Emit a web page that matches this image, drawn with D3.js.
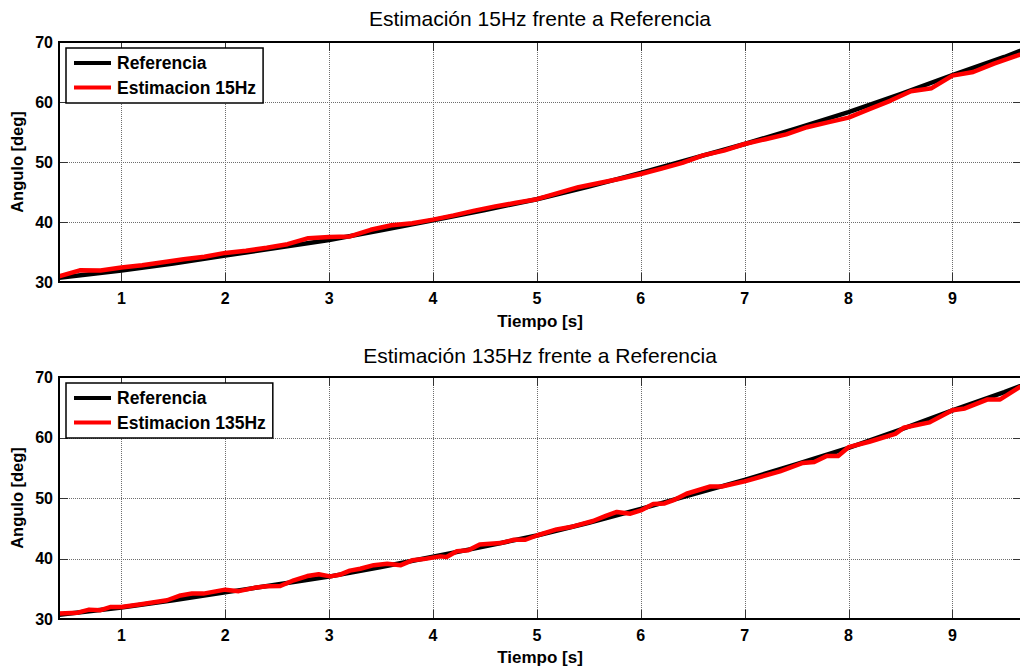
<!DOCTYPE html>
<html>
<head>
<meta charset="utf-8">
<script src="https://cdn.jsdelivr.net/npm/d3@7"></script>
<style>
  html, body { margin: 0; padding: 0; background: #fff; }
  svg { display: block; }
  text { font-family: "Liberation Sans", Arial, Helvetica, sans-serif; fill: #000; }
</style>
</head>
<body>
<svg id="chart" width="1020" height="668"></svg>
<script>
// Reference angle (deg) over time (s)
const timeRef  = [0.4, 1.0, 1.5, 2.0, 2.5, 3.0, 3.5, 4.0, 4.5, 5.0, 5.5, 6.0, 6.5, 7.0, 7.5, 8.0, 8.5, 9.0, 9.5, 9.8];
const refAngle = [30.7, 31.9, 33.1, 34.4, 35.7, 37.0, 38.6, 40.3, 42.0, 43.8, 45.9, 48.2, 50.6, 53.0, 55.6, 58.3, 61.3, 64.5, 67.5, 69.5];

// Estimate at 15 Hz
const time15 = [0.4, 0.6, 0.8, 1.0, 1.2, 1.4, 1.6, 1.8, 2.0, 2.2, 2.4, 2.6, 2.8, 3.0, 3.2, 3.4, 3.6, 3.8, 4.0, 4.2,
                4.4, 4.6, 4.8, 5.0, 5.2, 5.4, 5.6, 5.8, 6.0, 6.2, 6.4, 6.6, 6.8, 7.0, 7.2, 7.4, 7.6, 7.8, 8.0, 8.2,
                8.4, 8.6, 8.8, 9.0, 9.2, 9.4, 9.6, 9.8];
const est15  = [30.95, 31.95, 31.9, 32.4, 32.8, 33.3, 33.8, 34.2, 34.85, 35.2, 35.7, 36.3, 37.3, 37.5, 37.6, 38.7, 39.45, 39.8, 40.4, 41.1,
                41.9, 42.6, 43.2, 43.8, 44.8, 45.8, 46.5, 47.2, 48.0, 48.9, 49.85, 51.1, 51.9, 53.0, 53.8, 54.6, 55.8, 56.6, 57.4, 58.8,
                60.2, 61.8, 62.3, 64.4, 65.0, 66.4, 67.6, 68.8];

// Estimate at 135 Hz
const time135 = [0.4, 0.58, 0.69, 0.8, 0.9, 1.0, 1.19, 1.44, 1.57, 1.68, 1.79, 2.0, 2.13, 2.28, 2.4, 2.53, 2.66, 2.79, 2.9, 3.01,
                 3.1, 3.2, 3.3, 3.43, 3.56, 3.69, 3.8, 3.91, 4.07, 4.13, 4.23, 4.34, 4.45, 4.65, 4.78, 4.89, 5.0, 5.19, 5.35, 5.54,
                 5.67, 5.77, 5.9, 6.0, 6.12, 6.23, 6.31, 6.44, 6.67, 6.78, 7.0, 7.34, 7.56, 7.67, 7.79, 7.9, 8.0, 8.2, 8.45, 8.53,
                 8.78, 9.0, 9.12, 9.34, 9.46, 9.65, 9.75];
const est135  = [30.9, 31.05, 31.55, 31.45, 32.0, 32.0, 32.45, 33.1, 33.9, 34.2, 34.2, 34.85, 34.6, 35.15, 35.4, 35.45, 36.4, 37.1, 37.4, 37.05,
                 37.3, 38.0, 38.3, 38.9, 39.15, 38.9, 39.7, 39.9, 40.35, 40.25, 41.2, 41.35, 42.3, 42.55, 43.1, 43.1, 43.8, 44.8, 45.3, 46.2,
                 47.1, 47.7, 47.4, 47.95, 49.0, 49.1, 49.6, 50.7, 51.9, 51.9, 52.75, 54.4, 55.8, 55.95, 56.95, 56.95, 58.4, 59.3, 60.6, 61.6,
                 62.5, 64.5, 64.8, 66.3, 66.3, 68.35, 69.0];

// Axis ticks
const xTicks = [1, 2, 3, 4, 5, 6, 7, 8, 9];
const yTicks = [30, 40, 50, 60, 70];
const xDomain = [0.4, 9.67];
const yDomain = [30, 70];

const panels = [
  { title: "Estimación 15Hz frente a Referencia", estLabel: "Estimacion 15Hz",
    time: time15, est: est15, top: 42, bottom: 282, titleY: 26, xLabelY: 327 },
  { title: "Estimación 135Hz frente a Referencia", estLabel: "Estimacion 135Hz",
    time: time135, est: est135, top: 377, bottom: 619, titleY: 363, xLabelY: 663 }
];

const svg = d3.select("#chart");
const left = 59, right = 1022;
const x = d3.scaleLinear().domain(xDomain).range([left, right]);

panels.forEach((p, i) => {
  const y = d3.scaleLinear().domain(yDomain).range([p.bottom, p.top]);
  const g = svg.append("g");

  const clipId = "clip" + i;
  g.append("clipPath").attr("id", clipId)
    .append("rect").attr("x", left).attr("y", p.top)
    .attr("width", right - left).attr("height", p.bottom - p.top);

  // dotted grid
  const grid = g.append("g").attr("stroke", "#6e6e6e").attr("stroke-width", 1)
    .attr("stroke-dasharray", "1,1").attr("shape-rendering", "crispEdges");
  grid.selectAll(".gx").data(xTicks).join("line")
    .attr("x1", d => Math.round(x(d)) + 0.5).attr("x2", d => Math.round(x(d)) + 0.5)
    .attr("y1", p.top).attr("y2", p.bottom);
  grid.selectAll(".gy").data(yTicks.filter(v => v > yDomain[0] && v < yDomain[1])).join("line")
    .attr("y1", d => Math.round(y(d)) + 0.5).attr("y2", d => Math.round(y(d)) + 0.5)
    .attr("x1", left).attr("x2", right);

  // tick marks on all four sides (inward)
  const tickLen = 9;
  const ticks = g.append("g").attr("stroke", "#333").attr("stroke-width", 1).attr("shape-rendering", "crispEdges");
  xTicks.forEach(v => {
    const xx = Math.round(x(v)) + 0.5;
    ticks.append("line").attr("x1", xx).attr("x2", xx).attr("y1", p.bottom).attr("y2", p.bottom - tickLen);
    ticks.append("line").attr("x1", xx).attr("x2", xx).attr("y1", p.top).attr("y2", p.top + tickLen);
  });
  yTicks.forEach(v => {
    const yy = Math.round(y(v)) + 0.5;
    ticks.append("line").attr("x1", left).attr("x2", left + tickLen).attr("y1", yy).attr("y2", yy);
    ticks.append("line").attr("x1", right).attr("x2", right - tickLen).attr("y1", yy).attr("y2", yy);
  });

  // data lines
  const line = d3.line().x(d => x(d[0])).y(d => y(d[1]));
  const lines = g.append("g").attr("clip-path", `url(#${clipId})`);
  lines.append("path").datum(d3.zip(timeRef, refAngle))
    .attr("d", line).attr("fill", "none").attr("stroke", "#000")
    .attr("stroke-width", 4.5).attr("stroke-linejoin", "round");
  lines.append("path").datum(d3.zip(p.time, p.est))
    .attr("d", line).attr("fill", "none").attr("stroke", "#ff0000")
    .attr("stroke-width", 4.5).attr("stroke-linejoin", "round");

  // box spines
  g.append("rect").attr("x", left).attr("y", p.top)
    .attr("width", right - left).attr("height", p.bottom - p.top)
    .attr("fill", "none").attr("stroke", "#000").attr("stroke-width", 2);

  // tick labels
  g.append("g").selectAll("text").data(xTicks).join("text")
    .attr("x", d => x(d)).attr("y", p.bottom + 22)
    .attr("text-anchor", "middle").attr("font-size", 16).attr("font-weight", "bold")
    .text(d => d);
  g.append("g").selectAll("text").data(yTicks).join("text")
    .attr("x", 53).attr("y", d => y(d) + 5.5)
    .attr("text-anchor", "end").attr("font-size", 16).attr("font-weight", "bold")
    .text(d => d);

  // title and axis labels
  g.append("text").attr("x", 540).attr("y", p.titleY)
    .attr("text-anchor", "middle").attr("font-size", 21).text(p.title);
  g.append("text").attr("x", 540).attr("y", p.xLabelY)
    .attr("text-anchor", "middle").attr("font-size", 17).attr("font-weight", "bold").text("Tiempo [s]");
  g.append("text")
    .attr("transform", `translate(23,${(p.top + p.bottom) / 2}) rotate(-90)`)
    .attr("text-anchor", "middle").attr("font-size", 16.5).attr("font-weight", "bold").text("Angulo [deg]");

  // legend
  const lg = g.append("g");
  const boxX = 66, boxY = p.top + 6, rowH = 24.5;
  const items = [{ label: "Referencia", color: "#000" }, { label: p.estLabel, color: "#ff0000" }];
  const box = lg.append("rect").attr("x", boxX).attr("y", boxY).attr("height", 55)
    .attr("fill", "#fff").attr("stroke", "#000").attr("stroke-width", 1.5);
  let maxW = 0;
  items.forEach((it, k) => {
    const cy = boxY + 15 + k * rowH;
    lg.append("line").attr("x1", 74).attr("x2", 111).attr("y1", cy).attr("y2", cy)
      .attr("stroke", it.color).attr("stroke-width", 4);
    const t = lg.append("text").attr("x", 117).attr("y", cy + 6)
      .attr("font-size", 17.5).attr("font-weight", "bold").text(it.label);
    maxW = Math.max(maxW, t.node().getComputedTextLength());
  });
  box.attr("width", 117 - boxX + maxW + 7);
});
</script>
</body>
</html>
